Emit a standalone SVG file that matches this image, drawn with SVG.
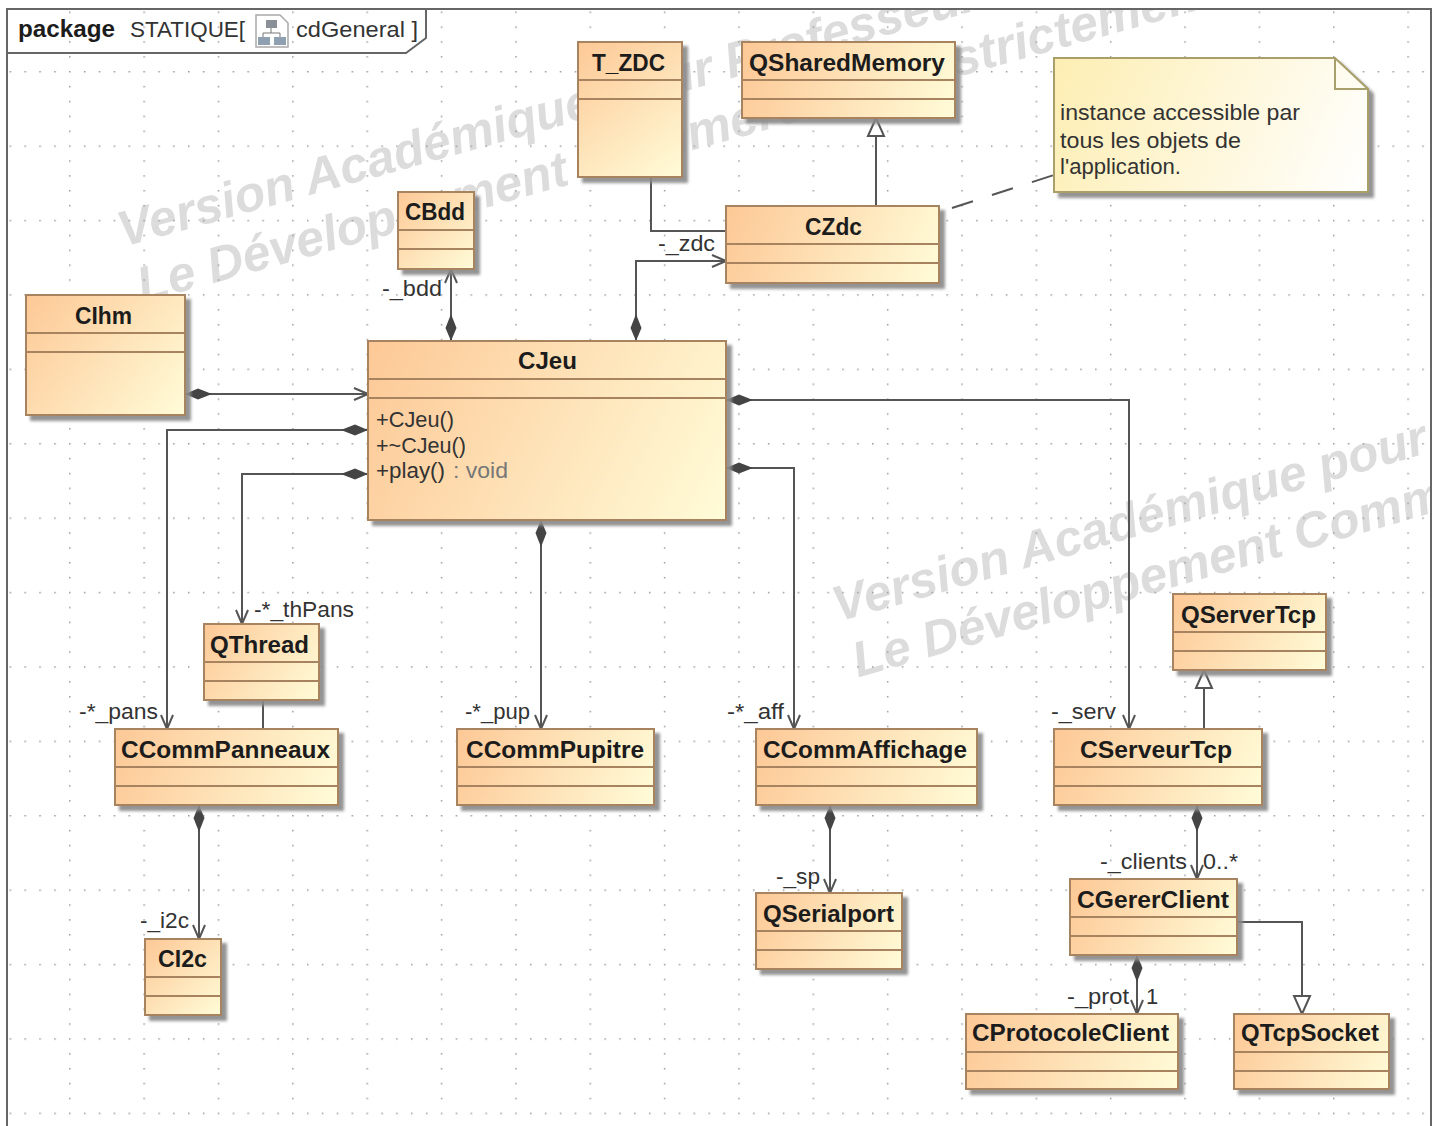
<svg xmlns="http://www.w3.org/2000/svg" width="1439" height="1126" viewBox="0 0 1439 1126">
<style>
text{font-family:"Liberation Sans",Arial,sans-serif;fill:#222}
.t{font-size:23px;font-weight:bold;fill:#1c1c1c}
.l{font-size:22px;fill:#333}
.n{font-size:22px;fill:#333}
.b{stroke:#a8835f;stroke-width:2;filter:url(#sh)}
.d{stroke:#a8835f;stroke-width:2;fill:none}
.c{fill:none;stroke:#555;stroke-width:2}
.wm{font-family:"Liberation Sans",Arial,sans-serif;font-style:italic;font-weight:bold;font-size:50px;fill:#dcdcdc}
</style>
<defs>
<linearGradient id="cg"><stop offset="0" stop-color="#fdc896"/><stop offset="1" stop-color="#fffcd8"/></linearGradient>
<linearGradient id="g1" href="#cg" gradientUnits="userSpaceOnUse" x1="578" y1="42" x2="682" y2="177"/>
<linearGradient id="g2" href="#cg" gradientUnits="userSpaceOnUse" x1="742" y1="42" x2="955" y2="118"/>
<linearGradient id="g3" href="#cg" gradientUnits="userSpaceOnUse" x1="726" y1="206" x2="939" y2="283"/>
<linearGradient id="g4" href="#cg" gradientUnits="userSpaceOnUse" x1="398" y1="192" x2="474" y2="269"/>
<linearGradient id="g5" href="#cg" gradientUnits="userSpaceOnUse" x1="26" y1="295" x2="185" y2="415"/>
<linearGradient id="g6" href="#cg" gradientUnits="userSpaceOnUse" x1="368" y1="341" x2="726" y2="520"/>
<linearGradient id="g7" href="#cg" gradientUnits="userSpaceOnUse" x1="204" y1="624" x2="319" y2="700"/>
<linearGradient id="g8" href="#cg" gradientUnits="userSpaceOnUse" x1="115" y1="729" x2="338" y2="805"/>
<linearGradient id="g9" href="#cg" gradientUnits="userSpaceOnUse" x1="457" y1="729" x2="654" y2="805"/>
<linearGradient id="g10" href="#cg" gradientUnits="userSpaceOnUse" x1="756" y1="729" x2="977" y2="805"/>
<linearGradient id="g11" href="#cg" gradientUnits="userSpaceOnUse" x1="1054" y1="729" x2="1262" y2="805"/>
<linearGradient id="g12" href="#cg" gradientUnits="userSpaceOnUse" x1="1173" y1="594" x2="1326" y2="670"/>
<linearGradient id="g13" href="#cg" gradientUnits="userSpaceOnUse" x1="756" y1="893" x2="902" y2="969"/>
<linearGradient id="g14" href="#cg" gradientUnits="userSpaceOnUse" x1="145" y1="939" x2="221" y2="1015"/>
<linearGradient id="g15" href="#cg" gradientUnits="userSpaceOnUse" x1="1070" y1="879" x2="1237" y2="955"/>
<linearGradient id="g16" href="#cg" gradientUnits="userSpaceOnUse" x1="966" y1="1014" x2="1178" y2="1089"/>
<linearGradient id="g17" href="#cg" gradientUnits="userSpaceOnUse" x1="1234" y1="1014" x2="1389" y2="1089"/>
<linearGradient id="ng" gradientUnits="userSpaceOnUse" x1="1054" y1="58" x2="1368" y2="192"><stop offset="0" stop-color="#fdeeb2"/><stop offset="1" stop-color="#ffffff"/></linearGradient>
<filter id="sh" x="-10%" y="-10%" width="125%" height="130%"><feDropShadow dx="5" dy="5" stdDeviation="1.500" flood-color="#888" flood-opacity="0.9"/></filter>
<pattern id="grid" patternUnits="userSpaceOnUse" x="-5.300" y="-3.400" width="74.350" height="74.400">
<g fill="#999"><rect x="0" y="0" width="1.500" height="1.500"/><rect x="14.900" y="0" width="1.500" height="1.500"/><rect x="29.700" y="0" width="1.500" height="1.500"/><rect x="44.600" y="0" width="1.500" height="1.500"/><rect x="59.500" y="0" width="1.500" height="1.500"/>
<rect x="0" y="14.900" width="1.500" height="1.500"/><rect x="0" y="29.800" width="1.500" height="1.500"/><rect x="0" y="44.600" width="1.500" height="1.500"/><rect x="0" y="59.500" width="1.500" height="1.500"/></g>
</pattern>
<marker id="dia" markerUnits="userSpaceOnUse" markerWidth="28" markerHeight="14" refX="0" refY="7" orient="auto"><path d="M0 7L13 1.500L27 7L13 12.500Z" fill="#444"/></marker>
<marker id="arr" markerUnits="userSpaceOnUse" markerWidth="16" markerHeight="16" refX="15" refY="8" orient="auto"><path d="M1 2L15 8L1 14" fill="none" stroke="#555" stroke-width="2"/></marker>
<marker id="tri" markerUnits="userSpaceOnUse" markerWidth="22" markerHeight="22" refX="19" refY="11" orient="auto"><path d="M1 3L19 11L1 19Z" fill="#fff" stroke="#555" stroke-width="2"/></marker>
<clipPath id="fr"><rect x="8" y="10" width="1422" height="1116"/></clipPath>
</defs>
<rect width="1439" height="1126" fill="#fff"/>
<g clip-path="url(#fr)">
<g transform="translate(123,247) rotate(-15.500)"><text class="wm" x="0" y="0">Version Académique pour Professeur</text><text class="wm" x="4" y="59">Le Développement Commercial est strictement</text></g>
<g transform="translate(838,622) rotate(-16)"><text class="wm" x="0" y="0">Version Académique pour</text><text class="wm" x="4" y="59">Le Développement Comm</text></g>
</g>
<rect x="8" y="10" width="1422" height="1116" fill="url(#grid)"/>
<g id="frame">
<path d="M7 1126V9H1431V1126" fill="none" stroke="#666" stroke-width="2"/>
<path d="M7 53H406L426 38V9" fill="none" stroke="#666" stroke-width="2"/>
<text x="18" y="37" font-size="23" font-weight="bold" textLength="97" lengthAdjust="spacingAndGlyphs" style="fill:#1c1c1c">package</text>
<text class="l" x="130" y="37" textLength="115" lengthAdjust="spacingAndGlyphs">STATIQUE[</text>
<g id="icon"><path d="M256 15H280L288 23V47H256Z" fill="#fff" stroke="#a9a9a9" stroke-width="1.500"/><rect x="266" y="20" width="11" height="8" fill="#8a8f98"/><path d="M271 28V33M263 37V33H280V37" fill="none" stroke="#777"/><rect x="258" y="37" width="12" height="8" fill="#8fa0b0"/><rect x="274" y="37" width="12" height="8" fill="#8fa0b0"/></g>
<text class="l" x="296" y="37" textLength="122" lengthAdjust="spacingAndGlyphs">cdGeneral ]</text>
</g>
<g id="connectors">
<path class="c" d="M651 177V231H726"/>
<path class="c" d="M636 341V261H726" marker-start="url(#dia)" marker-end="url(#arr)"/>
<path class="c" d="M451 341V269" marker-start="url(#dia)" marker-end="url(#arr)"/>
<path class="c" d="M185 394H368" marker-start="url(#dia)" marker-end="url(#arr)"/>
<path class="c" d="M368 430H167V729" marker-start="url(#dia)" marker-end="url(#arr)"/>
<path class="c" d="M368 474H242V624" marker-start="url(#dia)" marker-end="url(#arr)"/>
<path class="c" d="M541 520V729" marker-start="url(#dia)" marker-end="url(#arr)"/>
<path class="c" d="M726 468H794V729" marker-start="url(#dia)" marker-end="url(#arr)"/>
<path class="c" d="M726 400H1129V729" marker-start="url(#dia)" marker-end="url(#arr)"/>
<path class="c" d="M263 700V729"/>
<path class="c" d="M876 206V118" marker-end="url(#tri)"/>
<path class="c" d="M952 208L1054 175" stroke-dasharray="22 20"/>
<path class="c" d="M1204 729V670" marker-end="url(#tri)"/>
<path class="c" d="M199 805V939" marker-start="url(#dia)" marker-end="url(#arr)"/>
<path class="c" d="M830 805V893" marker-start="url(#dia)" marker-end="url(#arr)"/>
<path class="c" d="M1197 805V879" marker-start="url(#dia)" marker-end="url(#arr)"/>
<path class="c" d="M1137 955V1014" marker-start="url(#dia)" marker-end="url(#arr)"/>
<path class="c" d="M1237 922H1302V1014" marker-end="url(#tri)"/>
</g>
<g id="T_ZDC"><rect class="b" fill="url(#g1)" x="578" y="42" width="104" height="135"/><path class="d" d="M578 80H682M578 99H682"/><text class="t" x="592" y="71" textLength="73" lengthAdjust="spacingAndGlyphs">T_ZDC</text></g>
<g id="QSharedMemory"><rect class="b" fill="url(#g2)" x="742" y="42" width="213" height="76"/><path class="d" d="M742 80H955M742 99H955"/><text class="t" x="749" y="71" textLength="196" lengthAdjust="spacingAndGlyphs">QSharedMemory</text></g>
<g id="CZdc"><rect class="b" fill="url(#g3)" x="726" y="206" width="213" height="77"/><path class="d" d="M726 244H939M726 263H939"/><text class="t" x="805" y="235" textLength="57" lengthAdjust="spacingAndGlyphs">CZdc</text></g>
<g id="CBdd"><rect class="b" fill="url(#g4)" x="398" y="192" width="76" height="77"/><path class="d" d="M398 230H474M398 249H474"/><text class="t" x="405" y="220" textLength="60" lengthAdjust="spacingAndGlyphs">CBdd</text></g>
<g id="CIhm"><rect class="b" fill="url(#g5)" x="26" y="295" width="159" height="120"/><path class="d" d="M26 333H185M26 352H185"/><text class="t" x="75" y="324" textLength="57" lengthAdjust="spacingAndGlyphs">CIhm</text></g>
<g id="CJeu"><rect class="b" fill="url(#g6)" x="368" y="341" width="358" height="179"/><path class="d" d="M368 379H726M368 398H726"/><text class="t" x="518" y="369" textLength="59" lengthAdjust="spacingAndGlyphs">CJeu</text>
<text class="l" x="376" y="427" textLength="78" lengthAdjust="spacingAndGlyphs">+CJeu()</text><text class="l" x="376" y="453" textLength="90" lengthAdjust="spacingAndGlyphs">+~CJeu()</text><text class="l" x="376" y="478" textLength="69" lengthAdjust="spacingAndGlyphs">+play()</text><text class="l" x="453" y="478" textLength="55" lengthAdjust="spacingAndGlyphs" style="fill:#777">: void</text></g>
<g id="QThread"><rect class="b" fill="url(#g7)" x="204" y="624" width="115" height="76"/><path class="d" d="M204 662H319M204 681H319"/><text class="t" x="210" y="653" textLength="99" lengthAdjust="spacingAndGlyphs">QThread</text></g>
<g id="CCommPanneaux"><rect class="b" fill="url(#g8)" x="115" y="729" width="223" height="76"/><path class="d" d="M115 767H338M115 786H338"/><text class="t" x="121" y="758" textLength="209" lengthAdjust="spacingAndGlyphs">CCommPanneaux</text></g>
<g id="CCommPupitre"><rect class="b" fill="url(#g9)" x="457" y="729" width="197" height="76"/><path class="d" d="M457 767H654M457 786H654"/><text class="t" x="466" y="758" textLength="178" lengthAdjust="spacingAndGlyphs">CCommPupitre</text></g>
<g id="CCommAffichage"><rect class="b" fill="url(#g10)" x="756" y="729" width="221" height="76"/><path class="d" d="M756 767H977M756 786H977"/><text class="t" x="763" y="758" textLength="204" lengthAdjust="spacingAndGlyphs">CCommAffichage</text></g>
<g id="CServeurTcp"><rect class="b" fill="url(#g11)" x="1054" y="729" width="208" height="76"/><path class="d" d="M1054 767H1262M1054 786H1262"/><text class="t" x="1080" y="758" textLength="152" lengthAdjust="spacingAndGlyphs">CServeurTcp</text></g>
<g id="QServerTcp"><rect class="b" fill="url(#g12)" x="1173" y="594" width="153" height="76"/><path class="d" d="M1173 632H1326M1173 651H1326"/><text class="t" x="1181" y="623" textLength="135" lengthAdjust="spacingAndGlyphs">QServerTcp</text></g>
<g id="QSerialport"><rect class="b" fill="url(#g13)" x="756" y="893" width="146" height="76"/><path class="d" d="M756 931H902M756 950H902"/><text class="t" x="763" y="922" textLength="131" lengthAdjust="spacingAndGlyphs">QSerialport</text></g>
<g id="CI2c"><rect class="b" fill="url(#g14)" x="145" y="939" width="76" height="76"/><path class="d" d="M145 977H221M145 996H221"/><text class="t" x="158" y="967" textLength="49" lengthAdjust="spacingAndGlyphs">CI2c</text></g>
<g id="CGererClient"><rect class="b" fill="url(#g15)" x="1070" y="879" width="167" height="76"/><path class="d" d="M1070 917H1237M1070 936H1237"/><text class="t" x="1077" y="908" textLength="152" lengthAdjust="spacingAndGlyphs">CGererClient</text></g>
<g id="CProtocoleClient"><rect class="b" fill="url(#g16)" x="966" y="1014" width="212" height="75"/><path class="d" d="M966 1052H1178M966 1071H1178"/><text class="t" x="972" y="1041" textLength="197" lengthAdjust="spacingAndGlyphs">CProtocoleClient</text></g>
<g id="QTcpSocket"><rect class="b" fill="url(#g17)" x="1234" y="1014" width="155" height="75"/><path class="d" d="M1234 1052H1389M1234 1071H1389"/><text class="t" x="1241" y="1041" textLength="138" lengthAdjust="spacingAndGlyphs">QTcpSocket</text></g>
<g id="note"><path d="M1054 58H1335L1368 89V192H1054Z" fill="url(#ng)" stroke="#a89f6a" stroke-width="2" filter="url(#sh)"/><path d="M1335 58V89H1368" fill="none" stroke="#a89f6a" stroke-width="2"/>
<text class="n" x="1060" y="120" textLength="240" lengthAdjust="spacingAndGlyphs">instance accessible par</text><text class="n" x="1060" y="148" textLength="181" lengthAdjust="spacingAndGlyphs">tous les objets de</text><text class="n" x="1060" y="174" textLength="121" lengthAdjust="spacingAndGlyphs">l'application.</text></g>
<g id="labels">
<text class="l" x="382" y="296" textLength="60" lengthAdjust="spacingAndGlyphs">-_bdd</text>
<text class="l" x="658" y="251" textLength="57" lengthAdjust="spacingAndGlyphs">-_zdc</text>
<text class="l" x="254" y="617" textLength="100" lengthAdjust="spacingAndGlyphs">-*_thPans</text>
<text class="l" x="79" y="719" textLength="79" lengthAdjust="spacingAndGlyphs">-*_pans</text>
<text class="l" x="465" y="719" textLength="65" lengthAdjust="spacingAndGlyphs">-*_pup</text>
<text class="l" x="727" y="719" textLength="57" lengthAdjust="spacingAndGlyphs">-*_aff</text>
<text class="l" x="1051" y="719" textLength="65" lengthAdjust="spacingAndGlyphs">-_serv</text>
<text class="l" x="140" y="928" textLength="49" lengthAdjust="spacingAndGlyphs">-_i2c</text>
<text class="l" x="776" y="884" textLength="44" lengthAdjust="spacingAndGlyphs">-_sp</text>
<text class="l" x="1100" y="869" textLength="87" lengthAdjust="spacingAndGlyphs">-_clients</text>
<text class="l" x="1203" y="869" textLength="35" lengthAdjust="spacingAndGlyphs">0..*</text>
<text class="l" x="1067" y="1004" textLength="62" lengthAdjust="spacingAndGlyphs">-_prot</text>
<text class="l" x="1146" y="1004">1</text>
</g>
</svg>
